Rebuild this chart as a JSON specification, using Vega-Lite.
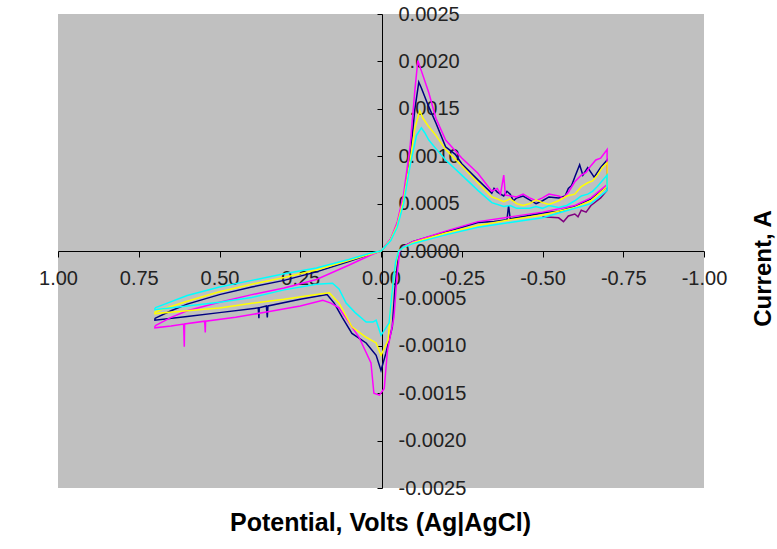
{
  "$schema": "https://vega.github.io/schema/vega-lite/v6.json",
  "autosize": {"type": "none"},
  "width": 646,
  "height": 474,
  "padding": {"left": 58, "top": 14, "right": 73, "bottom": 61},
  "background": "white",
  "config": {
    "view": {"fill": "#C0C0C0", "stroke": null},
    "font": "Liberation Sans"
  },
  "data": {"values": [
    {"s":"P","i":1,"E":-0.5,"I":0.00036},{"s":"P","i":2,"E":-0.55,"I":0.00035},{"s":"P","i":2.5,"E":-0.565,"I":0.00031},{"s":"P","i":3,"E":-0.58,"I":0.00037},{"s":"P","i":4,"E":-0.6,"I":0.00039},{"s":"P","i":4.5,"E":-0.61,"I":0.00036},{"s":"P","i":5,"E":-0.62,"I":0.00043},{"s":"P","i":5.5,"E":-0.635,"I":0.00041},{"s":"P","i":6,"E":-0.65,"I":0.00048},{"s":"P","i":7,"E":-0.68,"I":0.00056},{"s":"P","i":8,"E":-0.7,"I":0.00064},{"s":"P","i":9,"E":-0.7,"I":0.0008},

    {"s":"N","i":1,"E":0.70,"I":-0.00071},{"s":"N","i":2,"E":0.65,"I":-0.00063},{"s":"N","i":3,"E":0.60,"I":-0.00056},{"s":"N","i":4,"E":0.50,"I":-0.00046},{"s":"N","i":5,"E":0.40,"I":-0.00038},{"s":"N","i":6,"E":0.30,"I":-0.00031},{"s":"N","i":7,"E":0.20,"I":-0.00022},{"s":"N","i":8,"E":0.10,"I":-0.00011},{"s":"N","i":9,"E":0.03,"I":-0.00003},{"s":"N","i":10,"E":0.0,"I":0.0},
    {"s":"N","i":11,"E":-0.03,"I":0.00012},{"s":"N","i":12,"E":-0.05,"I":0.00028},{"s":"N","i":13,"E":-0.07,"I":0.00055},{"s":"N","i":14,"E":-0.09,"I":0.00098},{"s":"N","i":15,"E":-0.105,"I":0.0015},{"s":"N","i":16,"E":-0.117,"I":0.00178},{"s":"N","i":17,"E":-0.125,"I":0.00172},{"s":"N","i":18,"E":-0.148,"I":0.00152},{"s":"N","i":19,"E":-0.17,"I":0.00135},{"s":"N","i":20,"E":-0.2,"I":0.0011},
    {"s":"N","i":21,"E":-0.23,"I":0.00102},{"s":"N","i":22,"E":-0.25,"I":0.00092},{"s":"N","i":23,"E":-0.3,"I":0.00075},{"s":"N","i":24,"E":-0.343,"I":0.00061},{"s":"N","i":24.5,"E":-0.35,"I":0.00066},{"s":"N","i":25,"E":-0.36,"I":0.00062},{"s":"N","i":26,"E":-0.38,"I":0.00058},{"s":"N","i":26.5,"E":-0.39,"I":0.00063},{"s":"N","i":27,"E":-0.4,"I":0.0006},{"s":"N","i":27.5,"E":-0.41,"I":0.00053},{"s":"N","i":28,"E":-0.42,"I":0.00056},{"s":"N","i":28.5,"E":-0.44,"I":0.00058},{"s":"N","i":29,"E":-0.46,"I":0.00054},{"s":"N","i":29.5,"E":-0.48,"I":0.0005},{"s":"N","i":30,"E":-0.5,"I":0.00053},
    {"s":"N","i":30.5,"E":-0.52,"I":0.00057},{"s":"N","i":31,"E":-0.55,"I":0.00056},{"s":"N","i":31.5,"E":-0.57,"I":0.00058},{"s":"N","i":32,"E":-0.58,"I":0.00066},{"s":"N","i":32.5,"E":-0.59,"I":0.00069},{"s":"N","i":33,"E":-0.6,"I":0.00078},{"s":"N","i":34,"E":-0.615,"I":0.00091},{"s":"N","i":35,"E":-0.625,"I":0.0008},{"s":"N","i":36,"E":-0.64,"I":0.00088},{"s":"N","i":37,"E":-0.66,"I":0.00078},{"s":"N","i":38,"E":-0.68,"I":0.00088},{"s":"N","i":39,"E":-0.7,"I":0.00096},{"s":"N","i":40,"E":-0.7,"I":0.00068},
    {"s":"N","i":41,"E":-0.65,"I":0.00055},{"s":"N","i":42,"E":-0.6,"I":0.00047},{"s":"N","i":43,"E":-0.55,"I":0.00042},{"s":"N","i":44,"E":-0.5,"I":0.0004},{"s":"N","i":45,"E":-0.45,"I":0.00037},{"s":"N","i":46,"E":-0.4,"I":0.00034},{"s":"N","i":47,"E":-0.395,"I":0.00048},{"s":"N","i":48,"E":-0.39,"I":0.00033},{"s":"N","i":49,"E":-0.35,"I":0.00031},{"s":"N","i":50,"E":-0.3,"I":0.0003},
    {"s":"N","i":51,"E":-0.25,"I":0.00025},{"s":"N","i":52,"E":-0.2,"I":0.0002},{"s":"N","i":53,"E":-0.15,"I":0.00015},{"s":"N","i":54,"E":-0.1,"I":0.0001},{"s":"N","i":55,"E":-0.07,"I":0.00005},{"s":"N","i":56,"E":-0.055,"I":0.0},{"s":"N","i":57,"E":-0.043,"I":-0.0004},{"s":"N","i":58,"E":-0.035,"I":-0.0008},{"s":"N","i":59,"E":-0.015,"I":-0.00108},{"s":"N","i":60,"E":0.0,"I":-0.00126},
    {"s":"N","i":61,"E":0.015,"I":-0.0011},{"s":"N","i":62,"E":0.046,"I":-0.00097},{"s":"N","i":63,"E":0.09,"I":-0.00087},{"s":"N","i":64,"E":0.12,"I":-0.0007},{"s":"N","i":65,"E":0.145,"I":-0.00055},{"s":"N","i":66,"E":0.167,"I":-0.00046},{"s":"N","i":67,"E":0.25,"I":-0.00051},{"s":"N","i":68,"E":0.35,"I":-0.00058},{"s":"N","i":69,"E":0.352,"I":-0.0007},{"s":"N","i":70,"E":0.355,"I":-0.00058},
    {"s":"N","i":71,"E":0.377,"I":-0.0006},{"s":"N","i":72,"E":0.378,"I":-0.00071},{"s":"N","i":73,"E":0.38,"I":-0.0006},{"s":"N","i":74,"E":0.5,"I":-0.00065},{"s":"N","i":75,"E":0.6,"I":-0.00069},{"s":"N","i":76,"E":0.7,"I":-0.00073},{"s":"N","i":77,"E":0.70,"I":-0.00071},

    {"s":"M","i":1,"E":0.70,"I":-0.00079},{"s":"M","i":2,"E":0.65,"I":-0.0007},{"s":"M","i":3,"E":0.60,"I":-0.00063},{"s":"M","i":4,"E":0.50,"I":-0.00054},{"s":"M","i":5,"E":0.40,"I":-0.00046},{"s":"M","i":6,"E":0.30,"I":-0.00039},{"s":"M","i":7,"E":0.20,"I":-0.0003},{"s":"M","i":8,"E":0.10,"I":-0.00015},{"s":"M","i":9,"E":0.03,"I":-0.00004},{"s":"M","i":10,"E":0.0,"I":0.0},
    {"s":"M","i":11,"E":-0.03,"I":0.00013},{"s":"M","i":12,"E":-0.05,"I":0.0003},{"s":"M","i":13,"E":-0.07,"I":0.0006},{"s":"M","i":14,"E":-0.09,"I":0.0011},{"s":"M","i":15,"E":-0.105,"I":0.0017},{"s":"M","i":16,"E":-0.114,"I":0.00201},{"s":"M","i":17,"E":-0.125,"I":0.0019},{"s":"M","i":18,"E":-0.148,"I":0.00167},{"s":"M","i":19,"E":-0.17,"I":0.0014},{"s":"M","i":20,"E":-0.2,"I":0.00117},
    {"s":"M","i":21,"E":-0.25,"I":0.00098},{"s":"M","i":22,"E":-0.3,"I":0.00082},{"s":"M","i":23,"E":-0.343,"I":0.00063},{"s":"M","i":23.5,"E":-0.36,"I":0.00066},{"s":"M","i":24,"E":-0.37,"I":0.0006},{"s":"M","i":25,"E":-0.38,"I":0.0008},{"s":"M","i":26,"E":-0.385,"I":0.00059},{"s":"M","i":27,"E":-0.42,"I":0.00057},{"s":"M","i":27.5,"E":-0.44,"I":0.0006},{"s":"M","i":28,"E":-0.46,"I":0.00056},{"s":"M","i":28.5,"E":-0.48,"I":0.00053},{"s":"M","i":29,"E":-0.5,"I":0.00056},{"s":"M","i":29.5,"E":-0.52,"I":0.0006},{"s":"M","i":30,"E":-0.55,"I":0.00058},
    {"s":"M","i":30.5,"E":-0.565,"I":0.00056},{"s":"M","i":31,"E":-0.58,"I":0.00062},{"s":"M","i":31.5,"E":-0.6,"I":0.00073},{"s":"M","i":32,"E":-0.62,"I":0.0008},{"s":"M","i":32.5,"E":-0.635,"I":0.00083},{"s":"M","i":33,"E":-0.65,"I":0.0009},{"s":"M","i":33.5,"E":-0.665,"I":0.00096},{"s":"M","i":34,"E":-0.68,"I":0.00098},{"s":"M","i":35,"E":-0.7,"I":0.00107},{"s":"M","i":36,"E":-0.7,"I":0.0007},{"s":"M","i":37,"E":-0.65,"I":0.00056},{"s":"M","i":38,"E":-0.6,"I":0.00048},{"s":"M","i":39,"E":-0.5,"I":0.00041},{"s":"M","i":40,"E":-0.4,"I":0.00036},
    {"s":"M","i":41,"E":-0.3,"I":0.00031},{"s":"M","i":42,"E":-0.2,"I":0.00021},{"s":"M","i":43,"E":-0.1,"I":0.0001},{"s":"M","i":44,"E":-0.07,"I":0.00005},{"s":"M","i":45,"E":-0.058,"I":0.0},{"s":"M","i":46,"E":-0.05,"I":-0.00025},{"s":"M","i":47,"E":-0.04,"I":-0.0007},{"s":"M","i":48,"E":-0.02,"I":-0.00105},{"s":"M","i":49,"E":-0.01,"I":-0.00145},{"s":"M","i":50,"E":0.005,"I":-0.00152},
    {"s":"M","i":51,"E":0.022,"I":-0.0015},{"s":"M","i":52,"E":0.031,"I":-0.00118},{"s":"M","i":53,"E":0.068,"I":-0.00091},{"s":"M","i":54,"E":0.1,"I":-0.00075},{"s":"M","i":55,"E":0.13,"I":-0.0006},{"s":"M","i":56,"E":0.155,"I":-0.00055},{"s":"M","i":57,"E":0.18,"I":-0.00052},{"s":"M","i":58,"E":0.25,"I":-0.00058},{"s":"M","i":59,"E":0.35,"I":-0.00064},{"s":"M","i":60,"E":0.45,"I":-0.0007},
    {"s":"M","i":61,"E":0.543,"I":-0.00074},{"s":"M","i":62,"E":0.544,"I":-0.00086},{"s":"M","i":63,"E":0.546,"I":-0.00074},{"s":"M","i":64,"E":0.608,"I":-0.00077},{"s":"M","i":65,"E":0.609,"I":-0.00101},{"s":"M","i":66,"E":0.611,"I":-0.00077},{"s":"M","i":67,"E":0.65,"I":-0.00079},{"s":"M","i":68,"E":0.7,"I":-0.00081},{"s":"M","i":69,"E":0.70,"I":-0.00079},

    {"s":"Y","i":1,"E":0.70,"I":-0.00064},{"s":"Y","i":2,"E":0.60,"I":-0.00053},{"s":"Y","i":3,"E":0.50,"I":-0.00043},{"s":"Y","i":4,"E":0.40,"I":-0.00035},{"s":"Y","i":5,"E":0.30,"I":-0.00028},{"s":"Y","i":6,"E":0.20,"I":-0.0002},{"s":"Y","i":7,"E":0.10,"I":-0.0001},{"s":"Y","i":8,"E":0.03,"I":-0.00003},{"s":"Y","i":9,"E":0.0,"I":0.0},{"s":"Y","i":10,"E":-0.03,"I":0.00012},
    {"s":"Y","i":11,"E":-0.05,"I":0.00027},{"s":"Y","i":12,"E":-0.07,"I":0.00054},{"s":"Y","i":13,"E":-0.09,"I":0.00095},{"s":"Y","i":14,"E":-0.105,"I":0.0013},{"s":"Y","i":15,"E":-0.12,"I":0.00148},{"s":"Y","i":16,"E":-0.13,"I":0.0014},{"s":"Y","i":17,"E":-0.148,"I":0.00131},{"s":"Y","i":18,"E":-0.17,"I":0.00122},{"s":"Y","i":19,"E":-0.2,"I":0.00107},{"s":"Y","i":20,"E":-0.25,"I":0.0009},
    {"s":"Y","i":21,"E":-0.3,"I":0.00072},{"s":"Y","i":22,"E":-0.343,"I":0.00057},{"s":"Y","i":22.5,"E":-0.36,"I":0.00055},{"s":"Y","i":23,"E":-0.38,"I":0.00052},{"s":"Y","i":23.5,"E":-0.4,"I":0.00055},{"s":"Y","i":24,"E":-0.42,"I":0.0005},{"s":"Y","i":24.5,"E":-0.44,"I":0.00048},{"s":"Y","i":25,"E":-0.46,"I":0.0005},{"s":"Y","i":25.5,"E":-0.48,"I":0.00054},{"s":"Y","i":26,"E":-0.5,"I":0.00051},{"s":"Y","i":26.5,"E":-0.52,"I":0.00049},{"s":"Y","i":27,"E":-0.55,"I":0.00053},{"s":"Y","i":27.5,"E":-0.575,"I":0.00058},{"s":"Y","i":28,"E":-0.6,"I":0.0006},{"s":"Y","i":28.5,"E":-0.62,"I":0.00068},{"s":"Y","i":29,"E":-0.64,"I":0.00072},{"s":"Y","i":29.5,"E":-0.655,"I":0.00074},{"s":"Y","i":30,"E":-0.67,"I":0.0008},{"s":"Y","i":30.5,"E":-0.685,"I":0.00088},
    {"s":"Y","i":31,"E":-0.7,"I":0.00093},{"s":"Y","i":32,"E":-0.7,"I":0.00068},{"s":"Y","i":33,"E":-0.65,"I":0.00053},{"s":"Y","i":34,"E":-0.6,"I":0.00046},{"s":"Y","i":35,"E":-0.5,"I":0.00038},{"s":"Y","i":36,"E":-0.4,"I":0.00033},{"s":"Y","i":37,"E":-0.3,"I":0.00027},{"s":"Y","i":38,"E":-0.2,"I":0.00019},{"s":"Y","i":39,"E":-0.1,"I":0.00009},{"s":"Y","i":40,"E":-0.07,"I":0.00004},
    {"s":"Y","i":41,"E":-0.055,"I":0.0},{"s":"Y","i":42,"E":-0.045,"I":-0.00015},{"s":"Y","i":43,"E":-0.035,"I":-0.0004},{"s":"Y","i":44,"E":-0.022,"I":-0.00094},{"s":"Y","i":45,"E":0.0,"I":-0.0011},{"s":"Y","i":46,"E":0.015,"I":-0.00097},{"s":"Y","i":47,"E":0.046,"I":-0.00091},{"s":"Y","i":48,"E":0.09,"I":-0.0008},{"s":"Y","i":49,"E":0.13,"I":-0.00055},{"s":"Y","i":50,"E":0.16,"I":-0.00044},
    {"s":"Y","i":51,"E":0.2,"I":-0.00046},{"s":"Y","i":52,"E":0.3,"I":-0.00051},{"s":"Y","i":53,"E":0.4,"I":-0.00055},{"s":"Y","i":54,"E":0.5,"I":-0.0006},{"s":"Y","i":55,"E":0.6,"I":-0.00063},{"s":"Y","i":56,"E":0.7,"I":-0.00066},{"s":"Y","i":57,"E":0.70,"I":-0.00064},

    {"s":"C","i":1,"E":0.70,"I":-0.0006},{"s":"C","i":2,"E":0.60,"I":-0.00047},{"s":"C","i":3,"E":0.50,"I":-0.00038},{"s":"C","i":4,"E":0.40,"I":-0.00031},{"s":"C","i":5,"E":0.30,"I":-0.00024},{"s":"C","i":6,"E":0.20,"I":-0.00018},{"s":"C","i":7,"E":0.10,"I":-0.00009},{"s":"C","i":8,"E":0.03,"I":-0.00002},{"s":"C","i":9,"E":0.0,"I":0.0},{"s":"C","i":10,"E":-0.03,"I":0.00011},
    {"s":"C","i":11,"E":-0.05,"I":0.00025},{"s":"C","i":12,"E":-0.07,"I":0.0005},{"s":"C","i":13,"E":-0.09,"I":0.0009},{"s":"C","i":14,"E":-0.11,"I":0.00122},{"s":"C","i":15,"E":-0.125,"I":0.0013},{"s":"C","i":16,"E":-0.135,"I":0.00125},{"s":"C","i":17,"E":-0.148,"I":0.00117},{"s":"C","i":18,"E":-0.17,"I":0.00108},{"s":"C","i":19,"E":-0.2,"I":0.00096},{"s":"C","i":20,"E":-0.25,"I":0.0008},
    {"s":"C","i":21,"E":-0.3,"I":0.00064},{"s":"C","i":22,"E":-0.343,"I":0.00051},{"s":"C","i":23,"E":-0.38,"I":0.00047},{"s":"C","i":23.5,"E":-0.4,"I":0.00048},{"s":"C","i":24,"E":-0.42,"I":0.00045},{"s":"C","i":25,"E":-0.46,"I":0.00045},{"s":"C","i":25.5,"E":-0.48,"I":0.00047},{"s":"C","i":26,"E":-0.5,"I":0.00045},{"s":"C","i":26.5,"E":-0.52,"I":0.00048},{"s":"C","i":27,"E":-0.55,"I":0.00046},{"s":"C","i":27.5,"E":-0.575,"I":0.00048},{"s":"C","i":28,"E":-0.6,"I":0.00053},{"s":"C","i":28.5,"E":-0.62,"I":0.00058},{"s":"C","i":29,"E":-0.64,"I":0.0006},{"s":"C","i":29.5,"E":-0.655,"I":0.00063},{"s":"C","i":30,"E":-0.67,"I":0.00068},{"s":"C","i":30.5,"E":-0.685,"I":0.00074},
    {"s":"C","i":31,"E":-0.7,"I":0.0008},{"s":"C","i":32,"E":-0.7,"I":0.00064},{"s":"C","i":33,"E":-0.65,"I":0.0005},{"s":"C","i":34,"E":-0.6,"I":0.00045},{"s":"C","i":35,"E":-0.5,"I":0.00035},{"s":"C","i":36,"E":-0.4,"I":0.0003},{"s":"C","i":37,"E":-0.3,"I":0.00025},{"s":"C","i":38,"E":-0.2,"I":0.00017},{"s":"C","i":39,"E":-0.1,"I":0.00008},{"s":"C","i":40,"E":-0.07,"I":0.00004},
    {"s":"C","i":41,"E":-0.055,"I":0.0},{"s":"C","i":42,"E":-0.045,"I":-0.00012},{"s":"C","i":43,"E":-0.035,"I":-0.00041},{"s":"C","i":44,"E":-0.025,"I":-0.00076},{"s":"C","i":45,"E":0.0,"I":-0.00089},{"s":"C","i":46,"E":0.015,"I":-0.00073},{"s":"C","i":47,"E":0.025,"I":-0.00075},{"s":"C","i":48,"E":0.046,"I":-0.00075},{"s":"C","i":49,"E":0.08,"I":-0.00065},{"s":"C","i":50,"E":0.108,"I":-0.00055},
    {"s":"C","i":51,"E":0.13,"I":-0.0004},{"s":"C","i":52,"E":0.15,"I":-0.00034},{"s":"C","i":53,"E":0.2,"I":-0.00035},{"s":"C","i":54,"E":0.3,"I":-0.00041},{"s":"C","i":55,"E":0.4,"I":-0.00049},{"s":"C","i":56,"E":0.5,"I":-0.00054},{"s":"C","i":57,"E":0.6,"I":-0.00058},{"s":"C","i":58,"E":0.7,"I":-0.00062},{"s":"C","i":59,"E":0.70,"I":-0.0006}
  ]},
  "mark": {"type": "line", "strokeWidth": 1.5, "clip": true},
  "encoding": {
    "x": {
      "field": "E", "type": "quantitative",
      "scale": {"domain": [-1, 1], "reverse": true, "nice": false, "zero": false},
      "axis": {
        "title": "Potential, Volts (Ag|AgCl)",
        "orient": "bottom",
        "offset": -237,
        "values": [1, 0.75, 0.5, 0.25, 0, -0.25, -0.5, -0.75, -1],
        "labelExpr": "replace(format(datum.value, '.2f'), '\u2212', '-')",
        "grid": false,
        "domainColor": "#000000",
        "tickColor": "#000000",
        "tickSize": 6,
        "labelPadding": 11,
        "labelFont": "Liberation Sans",
        "labelFontSize": 20,
        "labelColor": "#222222",
        "labelOverlap": false,
        "labelFlush": false,
        "labelBound": false,
        "titleFont": "Liberation Sans",
        "titleFontSize": 25,
        "titleFontWeight": "bold",
        "titleColor": "#000000",
        "titleX": 322,
        "titleY": 279,
        "titleAlign": "center",
        "titleBaseline": "alphabetic"
      }
    },
    "y": {
      "field": "I", "type": "quantitative",
      "scale": {"domain": [-0.0025, 0.0025], "nice": false, "zero": false},
      "axis": {
        "title": "Current, A",
        "orient": "left",
        "offset": -324,
        "values": [-0.0025, -0.002, -0.0015, -0.001, -0.0005, 0, 0.0005, 0.001, 0.0015, 0.002, 0.0025],
        "labelExpr": "replace(format(datum.value, '.4f'), '\u2212', '-')",
        "grid": false,
        "domainColor": "#000000",
        "tickColor": "#000000",
        "tickSize": 5,
        "labelPadding": -21,
        "labelAlign": "left",
        "labelBaseline": "middle",
        "labelFont": "Liberation Sans",
        "labelFontSize": 20,
        "labelColor": "#222222",
        "labelOverlap": false,
        "labelFlush": false,
        "labelBound": false,
        "titleFont": "Liberation Sans",
        "titleFontSize": 24,
        "titleFontWeight": "bold",
        "titleColor": "#000000",
        "titleAngle": -90,
        "titleX": 388,
        "titleY": 254,
        "titleAlign": "center",
        "titleBaseline": "alphabetic"
      }
    },
    "color": {
      "field": "s", "type": "nominal",
      "scale": {"domain": ["P", "N", "M", "Y", "C"], "range": ["#800080", "#000080", "#FF00FF", "#FFFF00", "#00FFFF"]},
      "legend": null
    },
    "order": {"field": "i", "type": "quantitative"}
  }
}
